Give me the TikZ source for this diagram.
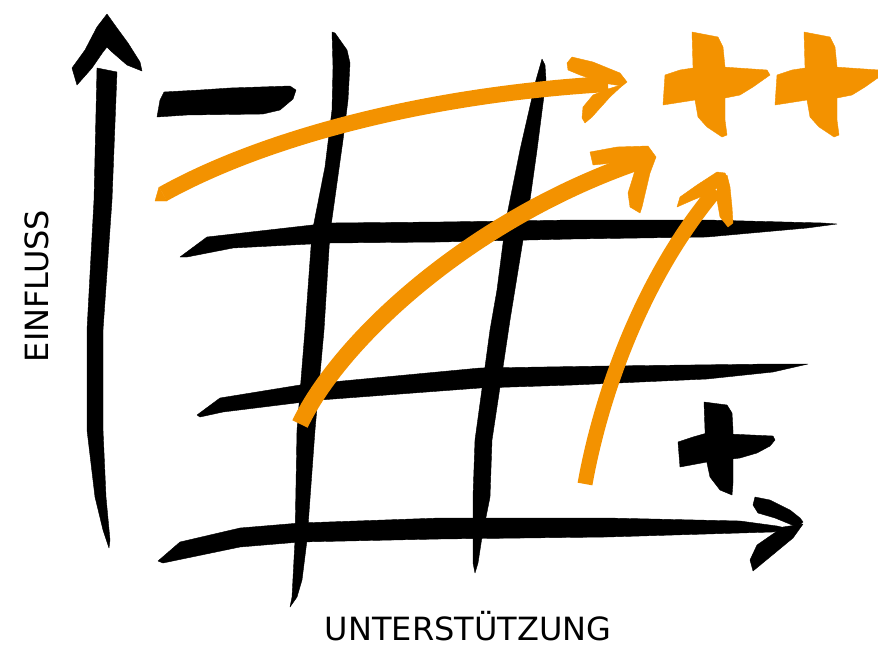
\documentclass[tikz,border=0pt]{standalone}
\usepackage{fontspec}
\setmainfont{DejaVu Sans}
\usetikzlibrary{calc}
\definecolor{accent}{HTML}{F39200}

\begin{document}
\begin{tikzpicture}[
		x=1pt,
		y=-1pt,
		line join=round,
		ink/.style={fill=black, draw=black, line width=0.4pt},
		paint/.style={fill=accent, draw=accent, line width=0.4pt},
		sweep/.style={draw=accent, line width=16pt, line cap=butt},
		axistext/.style={font=\fontsize{32}{34}\selectfont, inner sep=0pt, anchor=base}
		]
		\useasboundingbox (0,0) rectangle (878,646);
		
		%------------------------------------------------------------------
		% Axes
		%------------------------------------------------------------------
		% Vertical axis with its head
		\fill[ink] (97,68) -- (94,200) -- (87,330) -- (87,430) -- (95,497) -- (103,530)
		-- (109,548) -- (110,540) -- (106,497) -- (103,430) -- (103,330) -- (112,200)
		-- (117,72) -- cycle;
		\fill[ink] (107,14) -- (97,27) -- (85,50) -- (72,68) -- (77,85) -- (92,68)
		-- (103,52) -- (107,47) -- (112,52) -- (127,65) -- (142,71) -- (140,62)
		-- (128,43) -- (117,28) -- cycle;
		
		% Horizontal axis (lowest grid line) with its head
		\fill[ink] (158,561) -- (180,542) -- (240,528) -- (300,523) -- (440,518) -- (607,518)
		-- (740,521) -- (777,526) -- (790,529) -- (773,532) -- (740,533) -- (607,537)
		-- (440,539) -- (300,542) -- (240,547) -- (163,563) -- cycle;
		\fill[ink] (755,497) -- (770,500) -- (790,510) -- (800,518) -- (803,522) -- (797,527)
		-- (775,518) -- (758,513) -- (753,505) -- cycle;
		\fill[ink] (803,524) -- (793,538) -- (770,557) -- (753,571) -- (750,560) -- (757,545)
		-- (783,527) -- cycle;
		
		%------------------------------------------------------------------
		% Grid
		%------------------------------------------------------------------
		\fill[ink] (332,32) -- (333,67) -- (332,110) -- (325,167) -- (312,233) -- (305,330)
		-- (297,430) -- (295,540) -- (292,597) -- (290,607) -- (297,597) -- (302,580)
		-- (307,540) -- (315,430) -- (324,330) -- (330,233) -- (343,140) -- (348,100)
		-- (350,63) -- (347,50) -- (335,33) -- cycle;
		\fill[ink] (542,59) -- (536,80) -- (520,150) -- (506,220) -- (497,290) -- (490,330)
		-- (485,367) -- (475,440) -- (473,497) -- (473,563) -- (475,573) -- (478,563)
		-- (482,537) -- (490,497) -- (492,440) -- (503,367) -- (510,320) -- (523,240)
		-- (530,200) -- (537,150) -- (546,80) -- (545,65) -- cycle;
		\fill[ink] (180,257) -- (207,237) -- (330,223) -- (440,222) -- (573,220) -- (707,220)
		-- (823,223) -- (837,224) -- (807,228) -- (707,237) -- (573,239) -- (440,242)
		-- (330,243) -- (233,248) -- (187,257) -- cycle;
		\fill[ink] (197,415) -- (220,398) -- (300,385) -- (480,368) -- (607,366) -- (773,364)
		-- (808,364) -- (773,372) -- (707,379) -- (573,385) -- (480,388) -- (320,400)
		-- (223,412) -- (200,417) -- cycle;
		
		%------------------------------------------------------------------
		% Signs
		%------------------------------------------------------------------
		% Minus
		\fill[ink] (157,117) -- (160,100) -- (164,92) -- (200,90) -- (230,88) -- (290,86)
		-- (296,90) -- (293,99) -- (280,110) -- (263,114) -- (187,115) -- cycle;
		
		% Plus (black)
		\fill[ink] (704,402) -- (727,405) -- (732,413) -- (733,430) -- (733,483) -- (732,495)
		-- (720,490) -- (710,477) -- (707,463) -- (705,430) -- cycle;
		\fill[ink] (678,442) -- (693,437) -- (707,433) -- (773,436) -- (775,440) -- (770,446)
		-- (757,453) -- (740,458) -- (707,462) -- (680,467) -- cycle;
		
		% Plus plus (orange)
		\foreach \dx in {0,112} {
			\fill[paint, xshift=\dx] (692,32) -- (718,37) -- (723,47) -- (725,67) -- (725,120)
			-- (727,135) -- (722,137) -- (707,127) -- (698,117) -- (695,100) -- (693,67) -- cycle;
			\fill[paint, xshift=\dx] (665,75) -- (680,70) -- (693,68) -- (723,67) -- (767,70)
			-- (770,75) -- (753,87) -- (740,95) -- (725,98) -- (695,100) -- (663,105) -- cycle;
		}
		
		%------------------------------------------------------------------
		% Orange arrows
		%------------------------------------------------------------------
		\draw[sweep] (163,194) .. controls (260,140) and (420,95) .. (608,84);
		\fill[paint] (155,201) -- (159,187) -- (167,201) -- cycle;
		\fill[paint] (567,63) -- (572,57) -- (593,62) -- (620,73) -- (627,82) -- (622,86)
		-- (603,83) -- (580,75) -- (568,70) -- cycle;
		\fill[paint] (624,84) -- (610,97) -- (592,117) -- (585,123) -- (582,118) -- (583,107)
		-- (593,95) -- (608,89) -- cycle;
		
		\draw[sweep, line width=17pt] (300,424) .. controls (340,340) and (470,220) .. (637,162);
		\fill[paint] (590,152) -- (617,147) -- (648,146) -- (656,157) -- (640,163) -- (613,163)
		-- (593,165) -- cycle;
		\fill[paint] (656,157) -- (650,173) -- (642,207) -- (640,213) -- (630,207) -- (628,193)
		-- (633,177) -- (637,163) -- cycle;
		
		\draw[sweep, line width=15pt] (585,484) .. controls (600,400) and (640,280) .. (716,190);
		\fill[paint] (677,207) -- (680,197) -- (697,185) -- (717,172) -- (725,173) -- (727,177)
		-- (717,188) -- (710,193) -- (693,200) -- cycle;
		\fill[paint] (727,175) -- (730,187) -- (732,207) -- (733,223) -- (728,227) -- (720,217)
		-- (717,200) -- (717,188) -- cycle;
		
		%------------------------------------------------------------------
		% Axis labels
		%------------------------------------------------------------------
		\node[axistext, rotate=90] (influence) at (48,286) {EINFLUSS};
		\node[axistext] (support) at (468,640) {UNTERSTÜTZUNG};
		
	\end{tikzpicture}
\end{document}
